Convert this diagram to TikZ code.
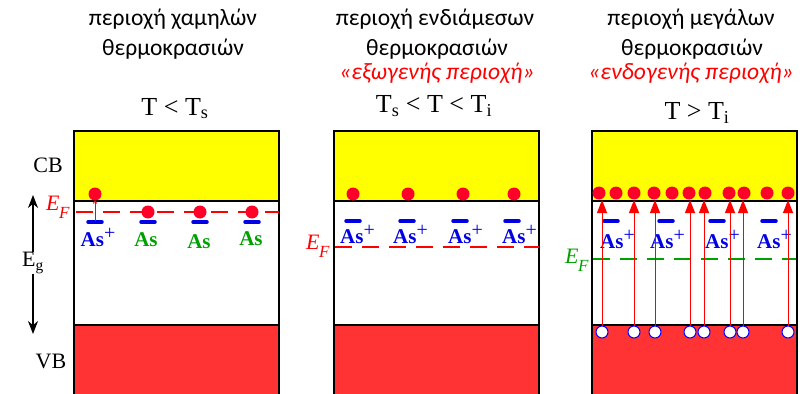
\documentclass[tikz,border=0pt]{standalone}
\usepackage{fontspec}
\setmainfont{Liberation Serif}
\newfontfamily\titlefont{Carlito}
\usetikzlibrary{arrows.meta}
\definecolor{cbyellow}{RGB}{255,255,0}
\definecolor{vbred}{RGB}{255,51,51}
\definecolor{dotred}{RGB}{255,0,40}
\definecolor{lvlblue}{RGB}{0,0,230}
\definecolor{asgreen}{RGB}{0,160,0}
\definecolor{txtred}{RGB}{255,0,0}
\newcommand{\asion}{As\raisebox{0.33em}{\mdseries\fontsize{20}{20}\selectfont +}}
\newcommand{\efsym}{E\kern-0.5pt\raisebox{-0.38em}{\fontsize{17}{17}\selectfont F}}
\begin{document}
\begin{tikzpicture}[x=1pt,y=-1pt,
  title/.style={font=\titlefont\fontsize{23.5}{28}\selectfont, anchor=base, inner sep=0},
  subtitle/.style={title, font=\titlefont\itshape\fontsize{23.5}{28}\selectfont, text=txtred},
  templ/.style={font=\fontsize{26}{30}\selectfont, anchor=base, inner sep=0},
  bandlbl/.style={font=\fontsize{22}{26}\selectfont, anchor=base, inner sep=0},
  eflbl/.style={font=\itshape\fontsize{22}{26}\selectfont, anchor=base west, inner sep=0},
  aslbl/.style={font=\bfseries\fontsize{21}{24}\selectfont, anchor=base, inner sep=0},
  electron/.style={circle, fill=dotred, inner sep=0, minimum size=13pt},
  hole/.style={circle, fill=white, draw=blue, line width=1pt, inner sep=0, minimum size=12pt},
  levelline/.style={draw=lvlblue, line width=3.5pt, line cap=round},
  fermi/.style={line width=2pt, dash pattern=on 17pt off 10pt},
  excite/.style={draw=txtred, line width=1pt, -{Triangle[length=13pt,width=10pt]}}
]
\useasboundingbox (0,0) rectangle (802,393);

% ---------- bands ----------
\foreach \xl in {74,334,592} {
  \fill[cbyellow] (\xl,131) rectangle ({\xl+205},201);
  \fill[vbred] (\xl,325) rectangle ({\xl+205},396);
  \draw[line width=1.2pt] (\xl,396) -- (\xl,131) -- ({\xl+205},131) -- ({\xl+205},396);
  \draw[line width=1.5pt] (\xl,201) -- ({\xl+205},201);
  \draw[line width=2pt] (\xl,325) -- ({\xl+205},325);
}

% ---------- titles ----------
\node[title] (t1a) at (173,26) {περιοχή χαμηλών};
\node[title] (t1b) at (173,56) {θερμοκρασιών};
\node[templ] (t1c) at (175,115) {T < T\textsubscript{s}};

\node[title] (t2a) at (435,26) {περιοχή ενδιάμεσων};
\node[title] (t2b) at (437,56) {θερμοκρασιών};
\node[subtitle] (t2c) at (437,80) {«εξωγενής περιοχή»};
\node[templ] (t2d) at (434,113) {T\textsubscript{s} < T < T\textsubscript{i}};

\node[title] (t3a) at (691,26) {περιοχή μεγάλων};
\node[title] (t3b) at (692,56) {θερμοκρασιών};
\node[subtitle] (t3c) at (691,80) {«ενδογενής περιοχή»};
\node[templ] (t3d) at (697,120) {T > T\textsubscript{i}};

% ---------- side labels ----------
\node[bandlbl] (cb) at (48,172) {CB};
\node[bandlbl] (vb) at (51,368) {VB};
\node[bandlbl, anchor=center] (eg) at (33,263) {E\textsubscript{g}};
\coordinate (egtop) at (33,195);
\coordinate (egbot) at (33,334);
\draw[line width=1.2pt, -{Stealth[length=13pt,width=10pt]}] (eg.north) -- (egtop);
\draw[line width=1.2pt, -{Stealth[length=13pt,width=10pt]}] (eg.south) -- (egbot);

% ---------- panel 1 ----------
\draw[fermi, draw=txtred] (76,212) -- (279,212);
\node[eflbl, text=txtred] (ef1) at (46,210) {\efsym};
\foreach \x/\n in {95/1,148/2,200/3,252/4} {
  \draw[levelline] ({\x-7},222) -- ({\x+7},222);
}
\node[electron] (p1e1) at (95,194) {};
\coordinate (p1d1) at (95,221);
\draw[draw=txtred, line width=0.8pt, -{To[length=3pt,width=4pt]}] (p1d1) -- (p1e1.south);
\node[electron] (p1e2) at (148,212) {};
\node[electron] (p1e3) at (200,212) {};
\node[electron] (p1e4) at (252,212) {};
\node[aslbl, text=lvlblue] (p1a1) at (98,246) {\asion};
\node[aslbl, text=asgreen] (p1a2) at (146,246) {As};
\node[aslbl, text=asgreen] (p1a3) at (199,248) {As};
\node[aslbl, text=asgreen] (p1a4) at (251,245) {As};

% ---------- panel 2 ----------
\foreach \x/\n in {353/1,408/2,463/3,514/4} {
  \node[electron] (p2e\n) at (\x,194) {};
}
\foreach \x in {353,407,460,512} {
  \draw[levelline] ({\x-7},221) -- ({\x+7},221);
}
\foreach \x/\n in {340/1,393/2,448/3,502/4} {
  \node[aslbl, anchor=base west, text=lvlblue] (p2a\n) at (\x,243) {\asion};
}
\draw[fermi, draw=txtred] (335,247) -- (539,247);
\node[eflbl, text=txtred] (ef2) at (306,249) {\efsym};

% ---------- panel 3 ----------
\foreach \x/\n in {599/1,616/2,634/3,654/4,672/5,689/6,705/7,729/8,744/9,767/10,788/11} {
  \node[electron] (p3e\n) at (\x,193) {};
}
\foreach \x in {611,666,717,769} {
  \draw[levelline] ({\x-7},221) -- ({\x+7},221);
}
\foreach \x/\n in {600/1,650/2,705/3,757/4} {
  \node[aslbl, anchor=base west, text=lvlblue] (p3a\n) at (\x,248) {\asion};
}
\draw[fermi, draw=asgreen] (593,259) -- (796,259);
\node[eflbl, text=asgreen] (ef3) at (565,263) {\efsym};
\foreach \x/\n in {602/1,634/2,655/3,690/4,704/5,730/6,743/7,788/8} {
  \node[hole] (p3h\n) at (\x,332) {};
  \coordinate (p3t\n) at (\x,200);
  \draw[excite] (p3h\n.north) -- (p3t\n);
}
\end{tikzpicture}
\end{document}
